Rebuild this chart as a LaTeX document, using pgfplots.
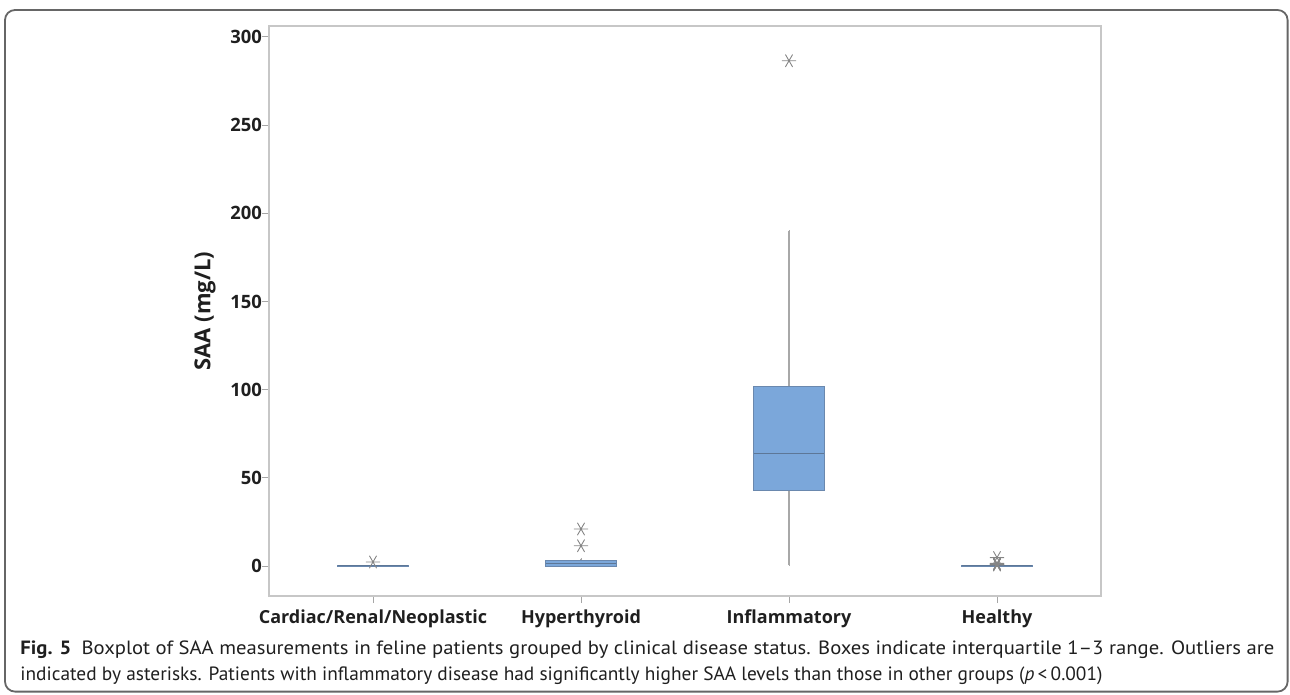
\documentclass[border=0pt]{standalone}
\usepackage{pgfplots}
\pgfplotsset{compat=1.18}
\usepgfplotslibrary{statistics}
\usepackage{graphicx}
\usepackage{fontspec}
\setmainfont{Open Sans}
\newfontfamily\capfont{PT Sans}
\definecolor{boxfill}{HTML}{7BA7DA}
\definecolor{boxedge}{HTML}{6A88AE}
\definecolor{whisk}{HTML}{A8A8A8}
\definecolor{outl}{HTML}{858585}
\definecolor{meddraw}{HTML}{5D7797}
\definecolor{framec}{HTML}{666666}
\pgfplotsset{
  bx/.style={solid, draw=boxedge, fill=boxfill, line width=0.5pt,
    mark=asterisk, mark size=3.6pt,
    mark options={draw=outl, fill=outl, rotate=90, line width=0.45pt},
    boxplot/draw direction=y,
    boxplot/box extend=0.337, boxplot/whisker extend=0.001,
    boxplot/every whisker/.style={draw=whisk, line width=0.6pt},
    boxplot/every median/.style={draw=meddraw, line width=0.6pt},
    boxplot/every box/.style={draw=boxedge, fill=boxfill, line width=0.5pt}},
}
\begin{document}
\begin{tikzpicture}
\useasboundingbox (0,0) rectangle (645pt,-347.5pt);
\draw[framec, line width=0.9pt, rounded corners=5pt] (2.5pt,-5pt) rectangle (643.8pt,-345.8pt);
\begin{axis}[
  at={(134.5pt,-298pt)}, anchor=south west,
  scale only axis, width=416pt, height=285pt,
  xmin=0.5, xmax=4.5, ymin=-17, ymax=306.2,
  xtick={1,2,3,4},
  xticklabels={Cardiac/Renal/Neoplastic,Hyperthyroid,Inflammatory,Healthy},
  ytick={0,50,100,150,200,250,300},
  xtick pos=bottom, ytick pos=left,
  tick align=outside, major tick length=3.5pt,
  axis line style={draw=black!22, line width=0.6pt},
  tick style={draw=black!35, line width=0.5pt},
  /pgf/number format/assume math mode=true,
  yticklabel style={font=\fontsize{9.2pt}{11pt}\selectfont\bfseries, text=black!88, xshift=3.5pt},
  xticklabel style={font=\fontsize{9.0pt}{11pt}\selectfont\bfseries, text=black!88, yshift=0pt},
  ylabel={SAA (mg/L)},
  ylabel style={font=\fontsize{11pt}{13pt}\selectfont\bfseries, text=black!88,
    at={(axis description cs:-0.0769,0.5)}, anchor=center},
  clip=false,
]
\addplot+[bx, boxplot prepared={draw position=1, lower whisker=-0.1, lower quartile=0,
  median=0.1, upper quartile=0.3, upper whisker=0.5}] table[row sep=\\, y index=0] {2.3\\};
\addplot+[bx, boxplot prepared={draw position=2, lower whisker=-0.1, lower quartile=0,
  median=1.6, upper quartile=3.4, upper whisker=4}] table[row sep=\\, y index=0] {11.5\\ 21\\};
\addplot+[bx, boxplot prepared={draw position=3, lower whisker=0.3, lower quartile=43,
  median=64, upper quartile=102, upper whisker=190}] table[row sep=\\, y index=0] {286.5\\};
\addplot+[bx, boxplot prepared={draw position=4, lower whisker=-0.1, lower quartile=0,
  median=0.1, upper quartile=0.2, upper whisker=0.3}] table[row sep=\\, y index=0] {0.6\\ 0.8\\ 1.0\\ 1.2\\ 1.5\\ 4.8\\};
\end{axis}
\node[anchor=base west, inner sep=0pt, text=black!88] at (10pt,-327.3pt)
  {\resizebox{627pt}{\height}{\capfont\fontsize{9.6pt}{11pt}\selectfont\textbf{Fig. 5}\enspace Boxplot of SAA measurements in feline patients grouped by clinical disease status. Boxes indicate interquartile 1–3 range. Outliers are}};
\node[anchor=base west, inner sep=0pt, text=black!88] at (10pt,-340pt)
  {\resizebox{541pt}{\height}{\capfont\fontsize{9.6pt}{11pt}\selectfont indicated by asterisks. Patients with inflammatory disease had significantly higher SAA levels than those in other groups (\textit{p}\,<\,0.001)}};
\end{tikzpicture}
\end{document}
